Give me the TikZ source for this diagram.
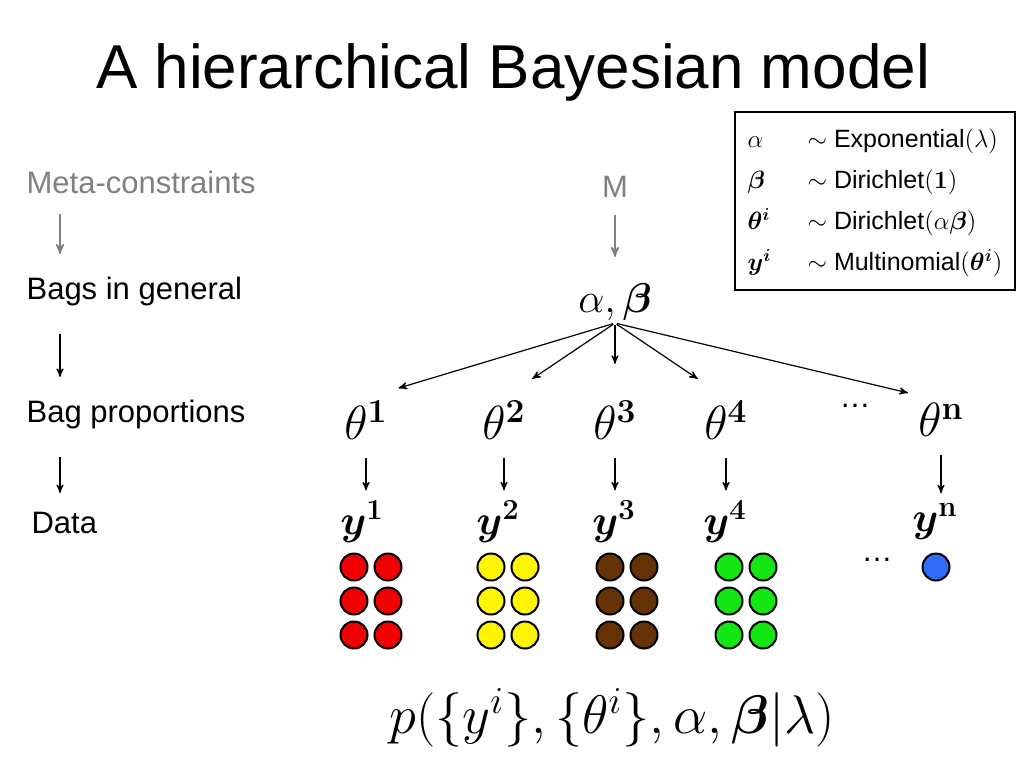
\RequirePackage{fix-cm}
\documentclass[tikz,border=0pt]{standalone}
\usepackage{amsmath,bm}
\usepackage[no-math]{fontspec}
\setmainfont{Liberation Sans}
\usetikzlibrary{arrows}
\usetikzlibrary{positioning}
\tikzset{
    level/.style={
           inner sep=1pt,
           anchor=base west,
           font=\fontsize{15.5}{18}\selectfont,
           },
    var/.style={
           inner sep=1pt,
           font=\fontsize{24}{28}\selectfont,
           },
    ball/.style={
           circle,
           draw=black, line width=1pt,
           minimum size=13.5pt,
           inner sep=0pt,
           },
}

\begin{document}
\begin{tikzpicture}[->,>=stealth',x=0.5pt,y=-0.5pt,line width=0.6pt]
  \useasboundingbox (0,0) rectangle (1024,768);

  % title
  \node[anchor=base,font=\fontsize{31}{36}\selectfont] (TITLE) at (513,88)
   {A hierarchical Bayesian model};

  % levels on the left
  \node[level,text=gray] (META) at (24,193) {Meta-constraints};
  \node[level] (BAGS) at (24,299) {Bags in general};
  \node[level] (PROP) at (24,422) {Bag proportions};
  \node[level] (DATA) at (29,533) {Data};
  \coordinate (LX) at (60,0);

  \path[gray,line width=0.8pt] (META.south -| LX) edge[shorten <=9pt,shorten >=10pt] (BAGS.north -| LX);
  \path
   (BAGS.south -| LX) edge[shorten <=13pt,shorten >=10pt] (PROP.north -| LX)
   (PROP.south -| LX) edge[shorten <=13pt,shorten >=8pt] (DATA.north -| LX)
   ;

  % model
  \node[text=gray,font=\fontsize{15.5}{18}\selectfont] (M) at (615,187) {M};
  \node[var,font=\fontsize{20.8}{25}\selectfont] (AB) at (615,302) {$\alpha,\bm{\beta}$};

  \node[var] (T1) at (366,420) {$\theta^{\mathbf{1}}$};
  \node[var] (T2) at (504,420) {$\theta^{\mathbf{2}}$};
  \node[var] (T3) at (615,420) {$\theta^{\mathbf{3}}$};
  \node[var] (T4) at (726,420) {$\theta^{\mathbf{4}}$};
  \node[var] (TN) at (941,420) {$\theta^{\mathbf{n}}$};
  \node[font=\fontsize{15.5}{18}\selectfont] (TDOTS) at (855,406) {\dots};

  \node[var,font=\fontsize{20.8}{25}\selectfont] (Y1) at (362,522) {$\bm{y}^{\mathbf{1}}$};
  \node[var,font=\fontsize{20.8}{25}\selectfont] (Y2) at (498,522) {$\bm{y}^{\mathbf{2}}$};
  \node[var,font=\fontsize{20.8}{25}\selectfont] (Y3) at (614,522) {$\bm{y}^{\mathbf{3}}$};
  \node[var,font=\fontsize{20.8}{25}\selectfont] (Y4) at (725,522) {$\bm{y}^{\mathbf{4}}$};
  \node[var,font=\fontsize{20.8}{25}\selectfont] (YN) at (935,522) {$\bm{y}^{\mathbf{n}}$};

  \path[gray,line width=0.8pt] (M.south) edge[shorten <=5pt,shorten >=12pt] (AB.north);

  % draw the paths from the hyperparameters
  \path[shorten <=1pt,shorten >=17pt]
   (AB.south) edge (T1.north)
   (AB.south) edge (T2.north)
   (AB.south) edge (T3.north)
   (AB.south) edge (T4.north)
   (AB.south) edge (TN.north)
   ;
  \path[shorten <=8pt,shorten >=4pt]
   (T1.south) edge (T1.south |- Y1.north)
   (T2.south) edge (T2.south |- Y2.north)
   (T3.south) edge (T3.south |- Y3.north)
   (T4.south) edge (T4.south |- Y4.north)
   (TN.south) edge (TN.south |- YN.north)
   ;

  % the bags of coloured balls
  \definecolor{ballred}{RGB}{240,0,0}
  \definecolor{ballyellow}{RGB}{255,245,0}
  \definecolor{ballbrown}{RGB}{100,50,5}
  \definecolor{ballgreen}{RGB}{20,230,20}
  \definecolor{ballblue}{RGB}{50,105,245}
  \foreach \x/\c/\n in {354/ballred/1,491/ballyellow/2,610/ballbrown/3,729/ballgreen/4}
   \foreach \r/\y in {1/567,2/601,3/635}
   {
    \node[ball,fill=\c] (B\n-\r-1) at (\x,\y) {};
    \node[ball,fill=\c] (B\n-\r-2) at (\x+34,\y) {};
   }
  \node[ball,fill=ballblue] (BN) at (936,567) {};
  \node[font=\fontsize{15.5}{18}\selectfont] (BDOTS) at (877,560) {\dots};

  % generative process
  \node[draw=black,line width=1pt,minimum width=140pt,minimum height=89pt,
   font=\fontsize{12.5}{15}\selectfont] (GEN) at (875,201)
   {\renewcommand{\arraystretch}{1.37}%
   \begin{tabular}{@{}p{30pt}@{}l@{}}
   $\alpha$ & $\sim$ Exponential$(\lambda)$\\
   $\bm{\beta}$ & $\sim$ Dirichlet$(\mathbf{1})$\\
   $\bm{\theta}^{\bm{i}}$ & $\sim$ Dirichlet$(\alpha\bm{\beta})$\\
   $\bm{y}^{\bm{i}}$ & $\sim$ Multinomial$(\bm{\theta}^{\bm{i}})$
   \end{tabular}};

  % joint distribution
  \node[font=\fontsize{27.2}{32}\selectfont] (JOINT) at (612,718)
   {$p(\{y^i\},\{\theta^i\},\alpha,\bm{\beta}|\lambda)$};
\end{tikzpicture}
\end{document}
